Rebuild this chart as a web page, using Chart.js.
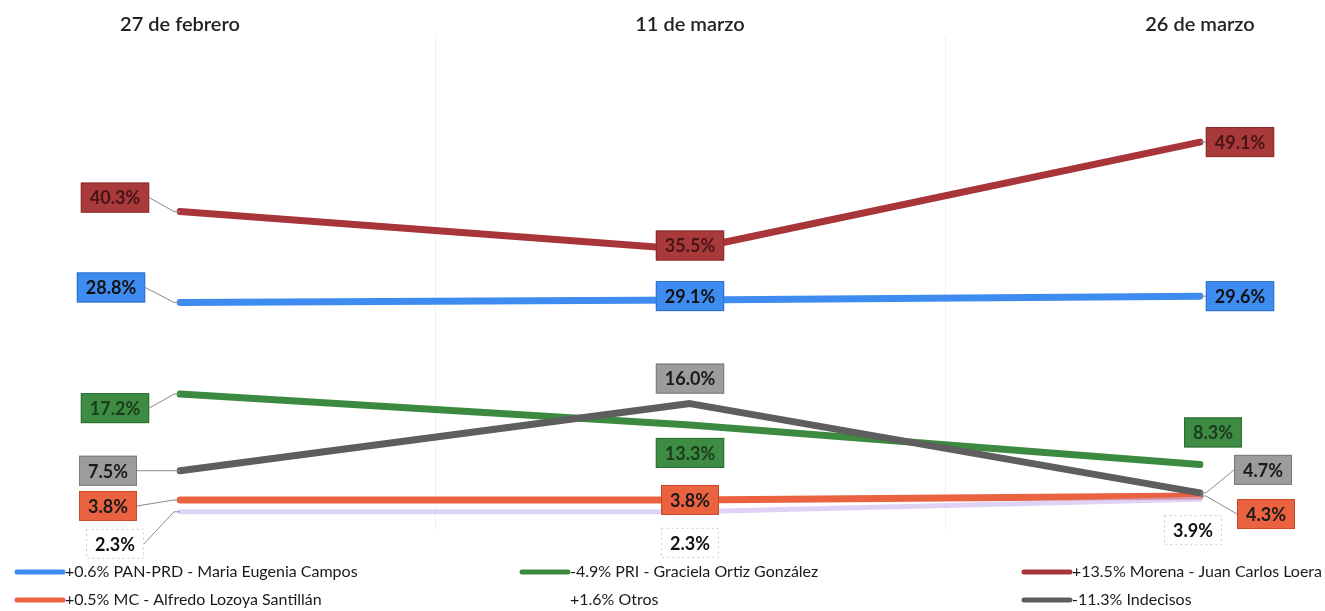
<!DOCTYPE html>
<html>
<head>
<meta charset="utf-8">
<script src="https://cdn.jsdelivr.net/npm/chart.js@4/dist/chart.umd.min.js"></script>
<style>
html,body{margin:0;padding:0;background:#fff;}
#wrap{position:relative;width:1325px;height:611px;}
</style>
</head>
<body>
<div id="wrap"><canvas id="c" width="1325" height="611"></canvas></div>
<script>
// ---- data ----
const categories = ['27 de febrero', '11 de marzo', '26 de marzo'];
const seriesNames = ['PAN-PRD - Maria Eugenia Campos', 'PRI - Graciela Ortiz González', 'Morena - Juan Carlos Loera', 'MC - Alfredo Lozoya Santillán', 'Otros', 'Indecisos'];
const panValues = [28.8, 29.1, 29.6];
const priValues = [17.2, 13.3, 8.3];
const morenaValues = [40.3, 35.5, 49.1];
const mcValues = [3.8, 3.8, 4.3];
const otrosValues = [2.3, 2.3, 3.9];
const indecisosValues = [7.5, 16.0, 4.7];
const legendLabels = ['+0.6% PAN-PRD - Maria Eugenia Campos', '-4.9% PRI - Graciela Ortiz González', '+13.5% Morena - Juan Carlos Loera', '+0.5% MC - Alfredo Lozoya Santillán', '+1.6% Otros', '-11.3% Indecisos'];

// ---- styles ----
const lineColors = ['#3f8cf0', '#3b8a40', '#a8353a', '#ea6240', 'rgba(200,182,238,0.6)', '#5e5e5e'];
const labelBg = ['#3f8cf0', '#3e8c44', '#a83a3c', '#ea6240', '#ffffff', '#9c9c9c'];
const labelBorder = ['#2f70c8', '#2e6e34', '#8a2a2c', '#c84a2a', '#cccccc', '#7a7a7a'];
const labelText = ['#111', '#1c3a1c', '#4a1414', '#1a1a1a', '#111', '#1a1a1a'];
// label offsets (px) relative to each point
const labelOffsets = [
  [[-69, -15], [0, -4], [40, 0]],
  [[-65, 14], [0, 28], [13, -32]],
  [[-65, -14], [0, -4], [40, 0]],
  [[-72, 6], [0, 0], [66, 18]],
  [[-65, 32], [0, 31], [-7, 31]],
  [[-72, 0], [0, -25], [63, -23]]
];
const legendPos = [[15, 572], [520, 572], [1022, 572], [15, 600], [520, 600], [1022, 600]];
const drawOrder = [5, 4, 3, 6, 2, 1]; // lower = on top

const valueArrays = [panValues, priValues, morenaValues, mcValues, otrosValues, indecisosValues];

const datasets = valueArrays.map((vals, i) => ({
  label: seriesNames[i],
  data: vals,
  borderColor: lineColors[i],
  backgroundColor: lineColors[i],
  borderWidth: i === 4 ? 5 : 7,
  borderDash: i === 4 ? [3, 2] : [],
  borderCapStyle: 'round',
  borderJoinStyle: 'round',
  pointRadius: 0,
  tension: 0,
  order: drawOrder[i],
  fill: false
}));

const labelPlugin = {
  id: 'boxLabels',
  afterDatasetsDraw(chart) {
    const ctx = chart.ctx;
    ctx.save();
    ctx.font = 'bold 18px Lato, "DejaVu Sans", sans-serif';
    ctx.textAlign = 'center';
    ctx.textBaseline = 'middle';
    chart.data.datasets.forEach((ds, i) => {
      const meta = chart.getDatasetMeta(i);
      meta.data.forEach((pt, j) => {
        const [dx, dy] = labelOffsets[i][j];
        const cx = pt.x + dx, cy = pt.y + dy;
        const text = ds.data[j].toFixed(1) + '%';
        const w = ctx.measureText(text).width + 18;
        const h = 30;
        const l = cx - w / 2, t = cy - h / 2;
        if (Math.abs(dx) > 20) {
          const sx = dx < 0 ? l + w : l;
          ctx.beginPath();
          ctx.strokeStyle = '#8a8a8a';
          ctx.lineWidth = 1;
          ctx.setLineDash([]);
          ctx.moveTo(sx, cy);
          ctx.lineTo(pt.x + (dx < 0 ? -6 : 6), pt.y);
          ctx.lineTo(pt.x, pt.y);
          ctx.stroke();
        }
        ctx.fillStyle = labelBg[i];
        ctx.fillRect(l, t, w, h);
        ctx.strokeStyle = labelBorder[i];
        ctx.lineWidth = 1;
        if (i === 4) ctx.setLineDash([2, 3]); else ctx.setLineDash([]);
        ctx.strokeRect(l + 0.5, t + 0.5, w - 1, h - 1);
        ctx.setLineDash([]);
        ctx.fillStyle = labelText[i];
        ctx.fillText(text, cx, cy + 1);
      });
    });
    ctx.restore();
  }
};

const legendPlugin = {
  id: 'gridLegend',
  afterDraw(chart) {
    const ctx = chart.ctx;
    ctx.save();
    ctx.font = '16px Lato, "DejaVu Sans", sans-serif';
    ctx.textBaseline = 'middle';
    ctx.textAlign = 'left';
    legendLabels.forEach((txt, i) => {
      const [x, y] = legendPos[i];
      if (i !== 4) {
        ctx.beginPath();
        ctx.strokeStyle = lineColors[i];
        ctx.lineWidth = 5;
        ctx.lineCap = 'round';
        ctx.moveTo(x + 2, y);
        ctx.lineTo(x + 48, y);
        ctx.stroke();
      }
      ctx.fillStyle = '#1a1a1a';
      ctx.fillText(txt, x + 50, y);
    });
    ctx.restore();
  }
};

new Chart(document.getElementById('c'), {
  type: 'line',
  data: { labels: categories, datasets: datasets },
  options: {
    responsive: false,
    animation: false,
    layout: { padding: { left: 180, right: 125, top: 13, bottom: 81 } },
    plugins: { legend: { display: false }, tooltip: { enabled: false } },
    scales: {
      x: {
        position: 'top',
        offset: false,
        grid: { offset: true, color: '#f0f0f0', drawTicks: false },
        border: { display: false },
        ticks: { padding: 0, color: '#222', font: { family: 'Lato, "DejaVu Sans", sans-serif', size: 20, weight: '600' } }
      },
      y: {
        display: false,
        min: 0,
        max: 62.4
      }
    }
  },
  plugins: [labelPlugin, legendPlugin]
});
</script>
</body>
</html>
